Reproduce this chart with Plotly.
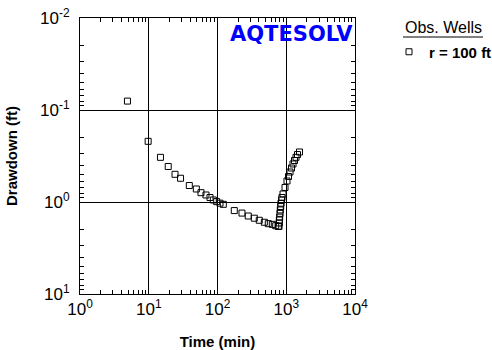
import plotly.graph_objects as go

# Observation well r = 100 ft (pumping + recovery)
time_min = [4.9, 9.8, 14.8, 19.2, 24.1, 29.0, 38.9, 49.2, 57.5, 68.0, 77.8, 86.9, 97.3,
            108.7, 121.4, 175.5, 227, 280, 343, 405, 480, 548, 627, 703, 766,
            785, 793, 793, 802, 811, 819, 830, 839, 853, 867, 897, 959, 1025, 1079,
            1135, 1192, 1254, 1318, 1386, 1457, 1558]
drawdown_ft = [0.080, 0.219, 0.327, 0.411, 0.50, 0.552, 0.662, 0.722, 0.792, 0.839, 0.894,
               0.951, 0.99, 1.03, 1.06, 1.24, 1.32, 1.42, 1.50, 1.58, 1.66, 1.72, 1.75, 1.81,
               1.84, 1.84, 1.69, 1.57, 1.46, 1.33, 1.22, 1.12, 1.03, 0.95, 0.893, 0.818,
               0.695, 0.591, 0.528, 0.472, 0.427, 0.386, 0.354, 0.327, 0.305, 0.286]

x_tickvals = [1, 10, 100, 1000, 10000]
x_ticktext = ["10<sup>0</sup>", "10<sup>1</sup>", "10<sup>2</sup>", "10<sup>3</sup>", "10<sup>4</sup>"]
y_tickvals = [0.01, 0.1, 1, 10]
y_ticktext = ["10<sup>-2</sup>", "10<sup>-1</sup>", "10<sup>0</sup>", "10<sup>1</sup>"]

series_name = "r = 100 ft"
legend_title = "Obs. Wells"
x_title = "Time (min)"
y_title = "Drawdown (ft)"
logo = "AQTESOLV"

FONT = "Liberation Sans, Arial, sans-serif"
L, R, T, B = 80, 355, 18, 294
PW, PH = R - L, B - T

fig = go.Figure()
fig.add_trace(go.Scatter(
    x=time_min, y=drawdown_ft, mode="markers", name="<b>" + series_name + "</b>",
    marker=dict(symbol="square-open", size=6, color="black", line=dict(width=1, color="black")),
    cliponaxis=False,
))

axis_common = dict(
    type="log", showline=True, linecolor="black", linewidth=1, mirror="allticks",
    showgrid=True, gridcolor="black", gridwidth=1, zeroline=False,
    ticks="inside", ticklen=4, tickcolor="black", tickmode="array",
    tickfont=dict(family=FONT, size=17, color="black"),
    minor=dict(ticks="inside", ticklen=4, tickcolor="black", dtick="D1", showgrid=False),
)

fig.update_xaxes(range=[0, 4], tickvals=x_tickvals, ticktext=x_ticktext,
                 title=dict(text="<b>" + x_title + "</b>", font=dict(family=FONT, size=15, color="black"), standoff=18),
                 **axis_common)
fig.update_yaxes(range=[1, -2], tickvals=y_tickvals, ticktext=y_ticktext,
                 ticklabelstandoff=6,
                 title=dict(text="<b>" + y_title + "</b>", font=dict(family=FONT, size=15, color="black"), standoff=18),
                 **axis_common)

fig.add_annotation(text="<b>" + logo + "</b>", xref="paper", yref="paper",
                   x=(291 - L) / PW, y=(B - 34) / PH, xanchor="center", yanchor="middle",
                   showarrow=False,
                   font=dict(family="DejaVu Sans", size=21, color="#0000ff"))
fig.add_annotation(text=legend_title, xref="paper", yref="paper",
                   x=(443 - L) / PW, y=(B - 27) / PH, xanchor="center", yanchor="middle",
                   showarrow=False,
                   font=dict(family=FONT, size=16, color="black"))
fig.add_shape(type="line", xref="paper", yref="paper",
              x0=(403 - L) / PW, x1=(483 - L) / PW,
              y0=(B - 37) / PH, y1=(B - 37) / PH,
              line=dict(color="black", width=1))

fig.update_layout(
    width=492, height=350,
    margin=dict(l=L, r=492 - R, t=T, b=350 - B, autoexpand=False),
    paper_bgcolor="white", plot_bgcolor="white",
    showlegend=True,
    legend=dict(x=(389 - L) / PW, y=(B - 52) / PH, xanchor="left", yanchor="middle",
                bgcolor="rgba(0,0,0,0)", borderwidth=0,
                font=dict(family=FONT, size=15, color="black"), itemwidth=30),
)

fig.write_html("out.html")
